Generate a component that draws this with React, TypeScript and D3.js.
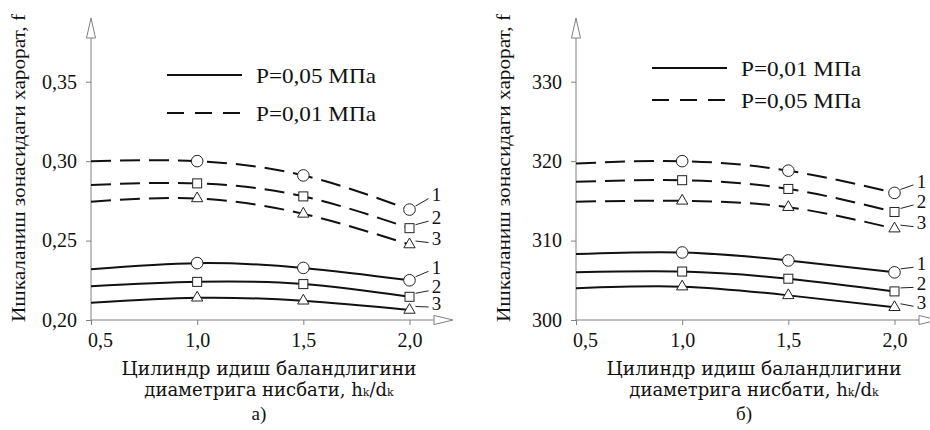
import React, { useEffect, useRef } from 'react';
import * as d3 from 'd3';

// x values: h_k / d_k
const ratios = [0.5, 1.0, 1.5, 2.0];
const ratioLabels = ['0,5', '1,0', '1,5', '2,0'];

// panel a)
const aTicks = [0.2, 0.25, 0.3, 0.35];
const aTickLabels = ['0,20', '0,25', '0,30', '0,35'];
const aDashed1 = [0.3, 0.3, 0.291, 0.2695];
const aDashed2 = [0.285, 0.286, 0.2778, 0.2578];
const aDashed3 = [0.2745, 0.2765, 0.2668, 0.2475];
const aSolid1 = [0.232, 0.2358, 0.2328, 0.225];
const aSolid2 = [0.2213, 0.224, 0.2226, 0.2146];
const aSolid3 = [0.2108, 0.214, 0.2121, 0.2063];
const aLegend = ['P=0,05 МПа', 'P=0,01 МПа'];

// panel б)
const bTicks = [300, 310, 320, 330];
const bTickLabels = ['300', '310', '320', '330'];
const bDashed1 = [319.7, 320.0, 318.8, 316.0];
const bDashed2 = [317.4, 317.6, 316.5, 313.6];
const bDashed3 = [314.9, 315.0, 314.2, 311.5];
const bSolid1 = [308.3, 308.5, 307.5, 306.0];
const bSolid2 = [306.0, 306.1, 305.2, 303.6];
const bSolid3 = [304.0, 304.2, 303.1, 301.6];
const bLegend = ['P=0,01 МПа', 'P=0,05 МПа'];

const yTitle = 'Ишкаланиш зонасидаги харорат, f';
const xTitle1 = 'Цилиндр идиш баландлигини';
const xTitle2 = 'диаметрига нисбати, h';

const serif = '"Liberation Serif", serif';
const wideSerif = '"DejaVu Serif", serif';

function drawPanel(svg, cfg) {
  const g = svg.append('g').attr('transform', `translate(${cfg.ox},0)`);
  const x = d3.scaleLinear().domain([0.5, 2.0]).range([0, 318.5]);
  const y = d3.scaleLinear().domain([cfg.ticks[0], cfg.ticks[3]]).range([320, 81.7]);
  const axisColor = '#808080';

  // axes
  const ya = g.append('g').call(
    d3.axisLeft(y).tickValues(cfg.ticks).tickSize(5).tickPadding(9)
      .tickFormat((d, i) => cfg.tickLabels[i])
  );
  const xa = g.append('g').attr('transform', 'translate(0,320)').call(
    d3.axisBottom(x).tickValues(ratios).tickSize(5).tickPadding(8)
      .tickFormat((d, i) => ratioLabels[i])
  );
  [ya, xa].forEach(a => {
    a.attr('font-family', null).attr('font-size', null);
    a.select('.domain').remove();
    a.selectAll('line').attr('stroke', axisColor);
    a.selectAll('text').style('font-family', serif).style('font-size', '20px').attr('fill', '#111');
  });
  xa.selectAll('text').filter((d, i) => i === 0).attr('dx', 9);

  g.append('line').attr('x1', 0).attr('x2', 0).attr('y1', 320).attr('y2', 38).attr('stroke', axisColor);
  g.append('path').attr('d', 'M0,18 L4.5,38 L-4.5,38 Z').attr('fill', 'white').attr('stroke', axisColor);
  g.append('line').attr('x1', 0).attr('x2', 343).attr('y1', 320).attr('y2', 320).attr('stroke', axisColor);
  g.append('path').attr('d', 'M362,320 L343,315.5 L343,324.5 Z').attr('fill', 'white').attr('stroke', axisColor);

  // legend
  [0, 1].forEach(i => {
    g.append('line').attr('x1', 76).attr('x2', 151)
      .attr('y1', cfg.legendY[i]).attr('y2', cfg.legendY[i])
      .attr('stroke', '#111').attr('stroke-width', 2.2)
      .attr('stroke-dasharray', i === 1 ? '17,11' : null);
    g.append('text').attr('x', 165).attr('y', cfg.legendY[i] + 7.5)
      .style('font-family', serif).style('font-size', '21px').attr('fill', '#111')
      .attr('textLength', 120).attr('lengthAdjust', 'spacingAndGlyphs')
      .text(cfg.legend[i]);
  });

  // curves
  const line = d3.line().x((d, i) => x(ratios[i])).y(d => y(d)).curve(d3.curveNatural);
  const groups = [
    { series: cfg.dashed, dash: '20,9', dy: cfg.labelDy[0] },
    { series: cfg.solid, dash: null, dy: cfg.labelDy[1] },
  ];
  groups.forEach(grp => {
    grp.series.forEach(s => {
      g.append('path').datum(s).attr('d', line).attr('fill', 'none')
        .attr('stroke', '#111').attr('stroke-width', 2)
        .attr('stroke-dasharray', grp.dash);
    });
    grp.series.forEach((s, k) => {
      s.forEach((v, i) => {
        if (i === 0) return;
        const cx = x(ratios[i]);
        const cy = y(v);
        if (k === 0) {
          g.append('circle').attr('cx', cx).attr('cy', cy).attr('r', 5.8)
            .attr('fill', 'white').attr('stroke', '#222');
        } else if (k === 1) {
          g.append('rect').attr('x', cx - 4.5).attr('y', cy - 4.5).attr('width', 9).attr('height', 9)
            .attr('fill', 'white').attr('stroke', '#222');
        } else {
          g.append('path').attr('transform', `translate(${cx},${cy})`)
            .attr('d', d3.symbol(d3.symbolTriangle, 55)()).attr('fill', 'white').attr('stroke', '#222');
        }
      });
      const ex = x(2.0);
      const ey = y(s[3]);
      const ly = ey + grp.dy[k];
      g.append('line').attr('x1', ex + 6).attr('y1', ey - 3.5).attr('x2', ex + 19).attr('y2', ly + 4)
        .attr('stroke', '#222');
      g.append('text').attr('x', ex + 27).attr('y', ly).attr('dy', '0.35em')
        .attr('text-anchor', 'middle').style('font-family', serif).style('font-size', '19px').attr('fill', '#111')
        .text(k + 1);
    });
  });

  // titles
  g.append('text').attr('transform', 'translate(-72,168) rotate(-90)')
    .attr('text-anchor', 'middle').attr('dy', '0.35em')
    .style('font-family', serif).style('font-size', '18px').attr('fill', '#111')
    .attr('textLength', 308).attr('lengthAdjust', 'spacingAndGlyphs')
    .text(yTitle);
  g.append('text').attr('x', 178).attr('y', 375).attr('text-anchor', 'middle')
    .style('font-family', wideSerif).style('font-size', '18px').attr('fill', '#111')
    .attr('textLength', 295).attr('lengthAdjust', 'spacingAndGlyphs')
    .text(xTitle1);
  const t2 = g.append('text').attr('x', 178).attr('y', 396).attr('text-anchor', 'middle')
    .style('font-family', wideSerif).style('font-size', '18px').attr('fill', '#111');
  t2.append('tspan').text(xTitle2);
  t2.append('tspan').style('font-size', '11px').text('k');
  t2.append('tspan').text('/d');
  t2.append('tspan').style('font-size', '11px').text('k');
  g.append('text').attr('x', 168).attr('y', 420).attr('text-anchor', 'middle')
    .style('font-family', serif).style('font-size', '19px').attr('fill', '#111')
    .text(cfg.caption);
}

export default function App() {
  const svgRef = useRef(null);

  useEffect(() => {
    const svg = d3.select(svgRef.current);
    svg.selectAll('*').remove();
    svg.append('rect').attr('width', 930).attr('height', 430).attr('fill', 'white');
    drawPanel(svg, {
      ox: 91,
      ticks: aTicks,
      tickLabels: aTickLabels,
      dashed: [aDashed1, aDashed2, aDashed3],
      solid: [aSolid1, aSolid2, aSolid3],
      legend: aLegend,
      legendY: [75, 113],
      labelDy: [[-15, -11, -6], [-13, -10, -7]],
      caption: 'а)',
    });
    drawPanel(svg, {
      ox: 576,
      ticks: bTicks,
      tickLabels: bTickLabels,
      dashed: [bDashed1, bDashed2, bDashed3],
      solid: [bSolid1, bSolid2, bSolid3],
      legend: bLegend,
      legendY: [68, 100],
      labelDy: [[-12, -11, -6], [-9, -8, -5]],
      caption: 'б)',
    });
  }, []);

  return (
    <svg ref={svgRef} width={930} height={430}
      style={{ position: 'absolute', left: 0, top: 0, display: 'block' }} />
  );
}
